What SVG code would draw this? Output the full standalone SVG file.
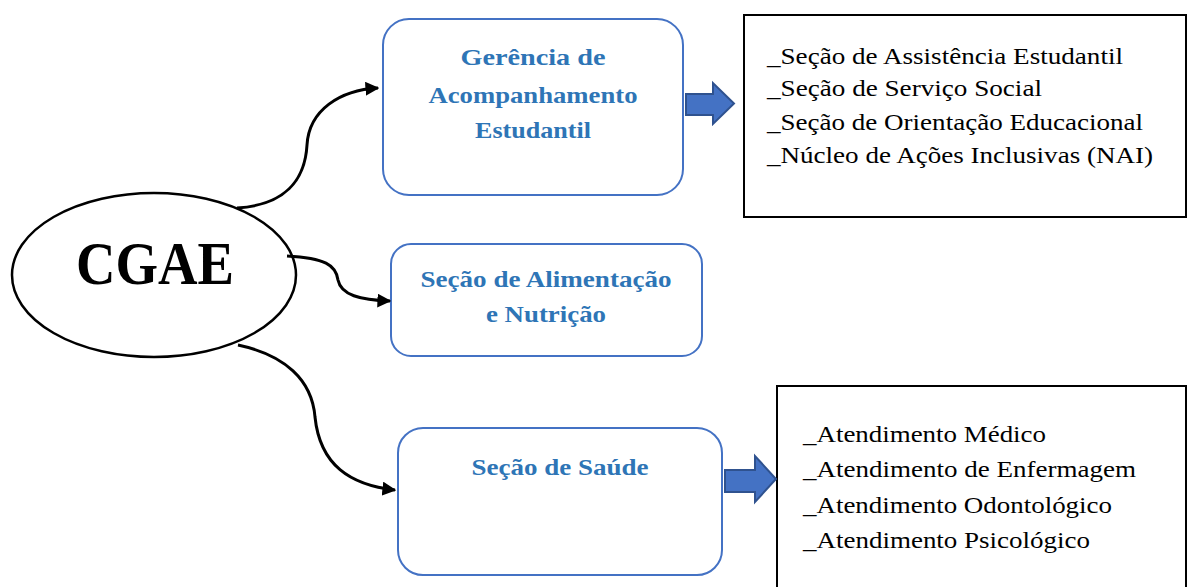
<svg xmlns="http://www.w3.org/2000/svg" width="1187" height="587" viewBox="0 0 1187 587">
<style>
.box{fill:#fff;stroke:#4472C4;stroke-width:2}
.list{fill:#fff;stroke:#000;stroke-width:2}
.bt{font-family:'Liberation Serif','Times New Roman',Tinos,Times,serif;font-weight:bold;font-size:24px;fill:#2E75B6;text-anchor:middle}
.lt{font-family:'Liberation Serif','Times New Roman',Tinos,Times,serif;font-size:24px;fill:#000}
.big{font-family:'Liberation Serif','Times New Roman',Tinos,Times,serif;font-weight:bold;font-size:62px;fill:#000;text-anchor:middle}
.con{fill:none;stroke:#000;stroke-width:3}
.blk{fill:#4472C4;stroke:#2F528F;stroke-width:2}
</style>
<defs>
<marker id="ah" viewBox="0 0 10 10" markerUnits="userSpaceOnUse" markerWidth="14" markerHeight="14" refX="9" refY="5" orient="auto">
<path d="M0,0 L10,5 L0,10 z" fill="#000"/>
</marker>
</defs>
<rect width="1187" height="587" fill="#fff"/>
<g id="cgae">
<ellipse cx="154" cy="275" rx="142" ry="82" fill="#fff" stroke="#000" stroke-width="2.5"/>
<text class="big" x="155" y="284" textLength="158" lengthAdjust="spacingAndGlyphs">CGAE</text>
</g>
<g id="gerencia">
<rect class="box" x="383" y="19" width="300" height="176" rx="26"/>
<text class="bt" x="533" y="65" textLength="145" lengthAdjust="spacingAndGlyphs">Gerência de</text>
<text class="bt" x="533" y="103" textLength="209" lengthAdjust="spacingAndGlyphs">Acompanhamento</text>
<text class="bt" x="533" y="138" textLength="116" lengthAdjust="spacingAndGlyphs">Estudantil</text>
</g>
<g id="alimentacao">
<rect class="box" x="391" y="244" width="311" height="112" rx="20"/>
<text class="bt" x="546" y="287" textLength="251" lengthAdjust="spacingAndGlyphs">Seção de Alimentação</text>
<text class="bt" x="546" y="322" textLength="120" lengthAdjust="spacingAndGlyphs">e Nutrição</text>
</g>
<g id="saude">
<rect class="box" x="398" y="428" width="324" height="147" rx="25"/>
<text class="bt" x="560" y="475" textLength="177" lengthAdjust="spacingAndGlyphs">Seção de Saúde</text>
</g>
<g id="lista-gerencia">
<rect class="list" x="744" y="15" width="442" height="202"/>
<text class="lt" x="767" y="64" textLength="356" lengthAdjust="spacingAndGlyphs">_Seção de Assistência Estudantil</text>
<text class="lt" x="767" y="96" textLength="275" lengthAdjust="spacingAndGlyphs">_Seção de Serviço Social</text>
<text class="lt" x="767" y="129.5" textLength="376" lengthAdjust="spacingAndGlyphs">_Seção de Orientação Educacional</text>
<text class="lt" x="767" y="163" textLength="386" lengthAdjust="spacingAndGlyphs">_Núcleo de Ações Inclusivas (NAI)</text>
</g>
<g id="lista-saude">
<path class="list" d="M777,600 L777,386 L1186,386 L1186,600"/>
<text class="lt" x="803" y="442" textLength="243" lengthAdjust="spacingAndGlyphs">_Atendimento Médico</text>
<text class="lt" x="803" y="477" textLength="333" lengthAdjust="spacingAndGlyphs">_Atendimento de Enfermagem</text>
<text class="lt" x="803" y="513" textLength="309" lengthAdjust="spacingAndGlyphs">_Atendimento Odontológico</text>
<text class="lt" x="803" y="548" textLength="287" lengthAdjust="spacingAndGlyphs">_Atendimento Psicológico</text>
</g>
<g id="connectors">
<path class="con" marker-end="url(#ah)" d="M237,208 C285,205 305,180 307,145 C309,110 340,90 378,88"/>
<path class="con" marker-end="url(#ah)" d="M287,256 C325,258 336,265 338,280 C341,295 360,300 390,301"/>
<path class="con" marker-end="url(#ah)" d="M238,345 C285,355 312,380 315,417 C320,465 350,485 395,490"/>
<polygon class="blk" points="686,94 713,94 713,83 734,103.5 713,124 713,115 686,115"/>
<polygon class="blk" points="725,470 755,470 755,456 776,479 755,502 755,492 725,492"/>
</g>
</svg>
